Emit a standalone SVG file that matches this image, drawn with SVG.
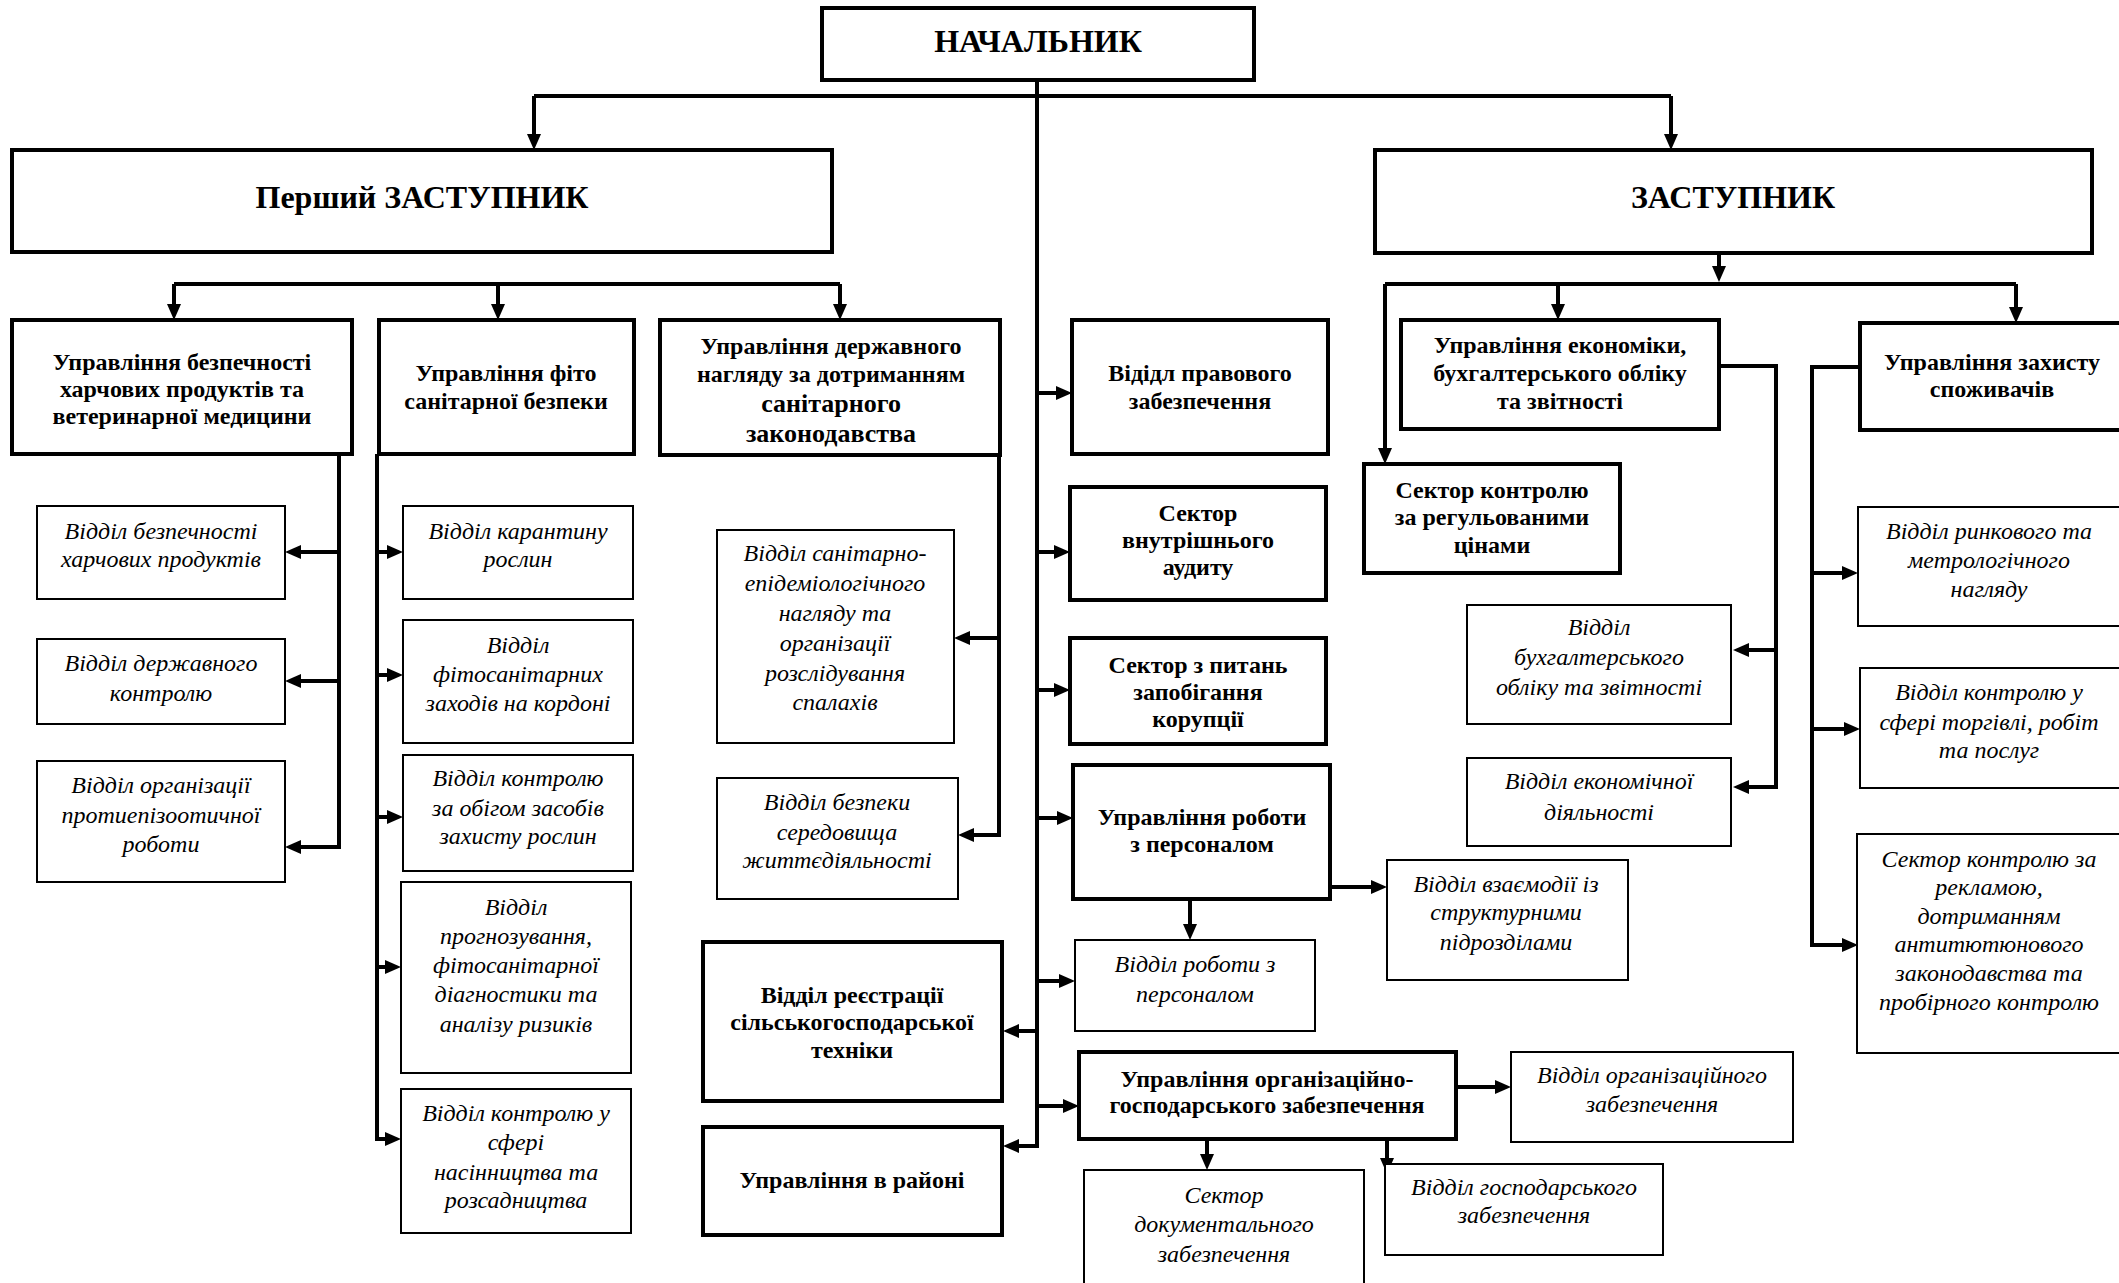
<svg xmlns="http://www.w3.org/2000/svg" width="2119" height="1283" viewBox="0 0 2119 1283">
<style>
.k{fill:#fff;stroke:#000;stroke-width:4}
.t{fill:#fff;stroke:#000;stroke-width:2}
text{font-family:"Liberation Serif","Times New Roman",serif;text-anchor:middle;fill:#000}
.h{font-size:32px;font-weight:bold}
.b{font-size:24px;font-weight:bold}
.bl{font-size:26px;font-weight:bold}
.i{font-size:24px;font-style:italic}
.c{fill:none;stroke:#000;stroke-width:4}
</style>
<defs>
<marker id="a" markerUnits="userSpaceOnUse" markerWidth="16" markerHeight="14" viewBox="0 0 16 14" refX="8" refY="7" orient="auto">
<path d="M0,0 L16,7 L0,14 z" fill="#000"/>
</marker>
</defs>
<g id="connectors">
<path class="c" d="M534,96 H1671"/>
<path class="c" d="M534,96 V142" marker-end="url(#a)"/>
<path class="c" d="M1671,96 V142" marker-end="url(#a)"/>
<path class="c" d="M1037,80 V1146 H1011" marker-end="url(#a)"/>
<path class="c" d="M1037,393 H1064" marker-end="url(#a)"/>
<path class="c" d="M1037,552 H1062" marker-end="url(#a)"/>
<path class="c" d="M1037,690 H1062" marker-end="url(#a)"/>
<path class="c" d="M1037,818 H1065" marker-end="url(#a)"/>
<path class="c" d="M1037,981 H1067" marker-end="url(#a)"/>
<path class="c" d="M1037,1106 H1071" marker-end="url(#a)"/>
<path class="c" d="M1037,1031 H1011" marker-end="url(#a)"/>
<path class="c" d="M174,284 H840"/>
<path class="c" d="M174,284 V312" marker-end="url(#a)"/>
<path class="c" d="M498,284 V312" marker-end="url(#a)"/>
<path class="c" d="M840,284 V312" marker-end="url(#a)"/>
<path class="c" d="M339,454 V847 H293" marker-end="url(#a)"/>
<path class="c" d="M339,552 H293" marker-end="url(#a)"/>
<path class="c" d="M339,681 H293" marker-end="url(#a)"/>
<path class="c" d="M377,454 V1139 H393" marker-end="url(#a)"/>
<path class="c" d="M377,552 H395" marker-end="url(#a)"/>
<path class="c" d="M377,675 H395" marker-end="url(#a)"/>
<path class="c" d="M377,817 H395" marker-end="url(#a)"/>
<path class="c" d="M377,967 H393" marker-end="url(#a)"/>
<path class="c" d="M999,455 V835 H966" marker-end="url(#a)"/>
<path class="c" d="M999,638 H962" marker-end="url(#a)"/>
<path class="c" d="M1190,899 V932" marker-end="url(#a)"/>
<path class="c" d="M1330,887 H1379" marker-end="url(#a)"/>
<path class="c" d="M1456,1087 H1503" marker-end="url(#a)"/>
<path class="c" d="M1207,1139 V1162" marker-end="url(#a)"/>
<path class="c" d="M1387,1139 V1166" marker-end="url(#a)"/>
<path class="c" d="M1719,253 V274" marker-end="url(#a)"/>
<path class="c" d="M1385,284 H2016"/>
<path class="c" d="M1385,284 V456" marker-end="url(#a)"/>
<path class="c" d="M1558,284 V312" marker-end="url(#a)"/>
<path class="c" d="M2016,284 V315" marker-end="url(#a)"/>
<path class="c" d="M1719,366 H1776 V787 H1741" marker-end="url(#a)"/>
<path class="c" d="M1776,650 H1741" marker-end="url(#a)"/>
<path class="c" d="M1860,367 H1812 V945 H1850" marker-end="url(#a)"/>
<path class="c" d="M1812,573 H1850" marker-end="url(#a)"/>
<path class="c" d="M1812,729 H1852" marker-end="url(#a)"/>
</g>
<g id="n-head"><rect class="k" x="822" y="8" width="432" height="72"/><text class="h" x="1038" y="52">НАЧАЛЬНИК</text></g>
<g id="n-first-deputy"><rect class="k" x="12" y="150" width="820" height="102"/><text class="h" x="422" y="208">Перший ЗАСТУПНИК</text></g>
<g id="n-deputy"><rect class="k" x="1375" y="150" width="717" height="103"/><text class="h" x="1733" y="208">ЗАСТУПНИК</text></g>
<g id="n-food"><rect class="k" x="12" y="320" width="340" height="134"/><text class="b" x="182"><tspan x="182" y="370">Управління безпечності</tspan><tspan x="182" y="397">харчових продуктів та</tspan><tspan x="182" y="424">ветеринарної медицини</tspan></text></g>
<g id="n-phyto"><rect class="k" x="379" y="320" width="255" height="134"/><text class="b"><tspan x="506" y="381">Управління фіто</tspan><tspan x="506" y="409">санітарної безпеки</tspan></text></g>
<g id="n-sanit"><rect class="k" x="660" y="320" width="340" height="135"/><text class="b"><tspan x="831" y="354">Управління державного</tspan><tspan x="831" y="382">нагляду за дотриманням</tspan></text><text class="bl"><tspan x="831" y="412">санітарного</tspan><tspan x="831" y="442">законодавства</tspan></text></g>
<g id="n-legal"><rect class="k" x="1072" y="320" width="256" height="134"/><text class="b"><tspan x="1200" y="381">Відідл правового</tspan><tspan x="1200" y="409">забезпечення</tspan></text></g>
<g id="n-audit"><rect class="k" x="1070" y="487" width="256" height="113"/><text class="b"><tspan x="1198" y="521">Сектор</tspan><tspan x="1198" y="548">внутрішнього</tspan><tspan x="1198" y="575">аудиту</tspan></text></g>
<g id="n-corrupt"><rect class="k" x="1070" y="638" width="256" height="106"/><text class="b"><tspan x="1198" y="673">Сектор з питань</tspan><tspan x="1198" y="700">запобігання</tspan><tspan x="1198" y="727">корупції</tspan></text></g>
<g id="n-hr"><rect class="k" x="1073" y="765" width="257" height="134"/><text class="b"><tspan x="1202" y="825">Управління роботи</tspan><tspan x="1202" y="852">з персоналом</tspan></text></g>
<g id="n-econ"><rect class="k" x="1401" y="320" width="318" height="109"/><text class="b"><tspan x="1560" y="353">Управління економіки,</tspan><tspan x="1560" y="381">бухгалтерського обліку</tspan><tspan x="1560" y="409">та звітності</tspan></text></g>
<g id="n-prices"><rect class="k" x="1364" y="464" width="256" height="109"/><text class="b"><tspan x="1492" y="498">Сектор контролю</tspan><tspan x="1492" y="525">за регульованими</tspan><tspan x="1492" y="553">цінами</tspan></text></g>
<g id="n-consumer"><rect class="k" x="1860" y="323" width="262" height="107"/><text class="b"><tspan x="1992" y="370">Управління захисту</tspan><tspan x="1992" y="397">споживачів</tspan></text></g>
<g id="n-food-safety"><rect class="t" x="37" y="506" width="248" height="93"/><text class="i"><tspan x="161" y="539">Відділ безпечності</tspan><tspan x="161" y="567">харчових продуктів</tspan></text></g>
<g id="n-state-control"><rect class="t" x="37" y="639" width="248" height="85"/><text class="i"><tspan x="161" y="671">Відділ державного</tspan><tspan x="161" y="701">контролю</tspan></text></g>
<g id="n-epizoo"><rect class="t" x="37" y="761" width="248" height="121"/><text class="i"><tspan x="161" y="793">Відділ організації</tspan><tspan x="161" y="823">протиепізоотичної</tspan><tspan x="161" y="852">роботи</tspan></text></g>
<g id="n-quarantine"><rect class="t" x="403" y="506" width="230" height="93"/><text class="i"><tspan x="518" y="539">Відділ карантину</tspan><tspan x="518" y="567">рослин</tspan></text></g>
<g id="n-border"><rect class="t" x="403" y="620" width="230" height="123"/><text class="i"><tspan x="518" y="653">Відділ</tspan><tspan x="518" y="682">фітосанітарних</tspan><tspan x="518" y="711">заходів на кордоні</tspan></text></g>
<g id="n-protect"><rect class="t" x="403" y="755" width="230" height="116"/><text class="i"><tspan x="518" y="786">Відділ контролю</tspan><tspan x="518" y="816">за обігом засобів</tspan><tspan x="518" y="844">захисту рослин</tspan></text></g>
<g id="n-forecast"><rect class="t" x="401" y="882" width="230" height="191"/><text class="i"><tspan x="516" y="915">Відділ</tspan><tspan x="516" y="944">прогнозування,</tspan><tspan x="516" y="973">фітосанітарної</tspan><tspan x="516" y="1002">діагностики та</tspan><tspan x="516" y="1032">аналізу ризиків</tspan></text></g>
<g id="n-seeds"><rect class="t" x="401" y="1089" width="230" height="144"/><text class="i"><tspan x="516" y="1121">Відділ контролю у</tspan><tspan x="516" y="1150">сфері</tspan><tspan x="516" y="1180">насінництва та</tspan><tspan x="516" y="1208">розсадництва</tspan></text></g>
<g id="n-epid"><rect class="t" x="717" y="530" width="237" height="213"/><text class="i"><tspan x="835" y="561">Відділ санітарно-</tspan><tspan x="835" y="591">епідеміологічного</tspan><tspan x="835" y="621">нагляду та</tspan><tspan x="835" y="651">організації</tspan><tspan x="835" y="681">розслідування</tspan><tspan x="835" y="710">спалахів</tspan></text></g>
<g id="n-env"><rect class="t" x="717" y="778" width="241" height="121"/><text class="i"><tspan x="837" y="810">Відділ безпеки</tspan><tspan x="837" y="840">середовища</tspan><tspan x="837" y="868">життєдіяльності</tspan></text></g>
<g id="n-agri"><rect class="k" x="703" y="942" width="299" height="159"/><text class="b"><tspan x="852" y="1003">Відділ реєстрації</tspan><tspan x="852" y="1030">сільськогосподарської</tspan><tspan x="852" y="1058">техніки</tspan></text></g>
<g id="n-district"><rect class="k" x="703" y="1127" width="299" height="108"/><text class="b" x="852" y="1188">Управління в районі</text></g>
<g id="n-hr-dept"><rect class="t" x="1075" y="940" width="240" height="91"/><text class="i"><tspan x="1195" y="972">Відділ роботи з</tspan><tspan x="1195" y="1002">персоналом</tspan></text></g>
<g id="n-interact"><rect class="t" x="1387" y="860" width="241" height="120"/><text class="i"><tspan x="1506" y="892">Відділ взаємодії із</tspan><tspan x="1506" y="920">структурними</tspan><tspan x="1506" y="950">підрозділами</tspan></text></g>
<g id="n-org"><rect class="k" x="1079" y="1052" width="377" height="87"/><text class="b"><tspan x="1267" y="1087">Управління організаційно-</tspan><tspan x="1267" y="1113">господарського забезпечення</tspan></text></g>
<g id="n-org-dept"><rect class="t" x="1511" y="1052" width="282" height="90"/><text class="i"><tspan x="1652" y="1083">Відділ організаційного</tspan><tspan x="1652" y="1112">забезпечення</tspan></text></g>
<g id="n-docs"><rect class="t" x="1084" y="1170" width="280" height="115"/><text class="i"><tspan x="1224" y="1203">Сектор</tspan><tspan x="1224" y="1232">документального</tspan><tspan x="1224" y="1262">забезпечення</tspan></text></g>
<g id="n-household"><rect class="t" x="1385" y="1164" width="278" height="91"/><text class="i"><tspan x="1524" y="1195">Відділ господарського</tspan><tspan x="1524" y="1223">забезпечення</tspan></text></g>
<g id="n-accounting"><rect class="t" x="1467" y="605" width="264" height="119"/><text class="i"><tspan x="1599" y="635">Відділ</tspan><tspan x="1599" y="665">бухгалтерського</tspan><tspan x="1599" y="695">обліку та звітності</tspan></text></g>
<g id="n-econ-dept"><rect class="t" x="1467" y="758" width="264" height="88"/><text class="i"><tspan x="1599" y="789">Відділ економічної</tspan><tspan x="1599" y="820">діяльності</tspan></text></g>
<g id="n-market"><rect class="t" x="1858" y="507" width="263" height="119"/><text class="i"><tspan x="1989" y="539">Відділ ринкового та</tspan><tspan x="1989" y="568">метрологічного</tspan><tspan x="1989" y="597">нагляду</tspan></text></g>
<g id="n-trade"><rect class="t" x="1860" y="668" width="261" height="120"/><text class="i"><tspan x="1989" y="700">Відділ контролю у</tspan><tspan x="1989" y="730">сфері торгівлі, робіт</tspan><tspan x="1989" y="758">та послуг</tspan></text></g>
<g id="n-ads"><rect class="t" x="1857" y="834" width="264" height="219"/><text class="i"><tspan x="1989" y="867">Сектор контролю за</tspan><tspan x="1989" y="895">рекламою,</tspan><tspan x="1989" y="924">дотриманням</tspan><tspan x="1989" y="952">антитютюнового</tspan><tspan x="1989" y="981">законодавства та</tspan><tspan x="1989" y="1010">пробірного контролю</tspan></text></g>
</svg>
